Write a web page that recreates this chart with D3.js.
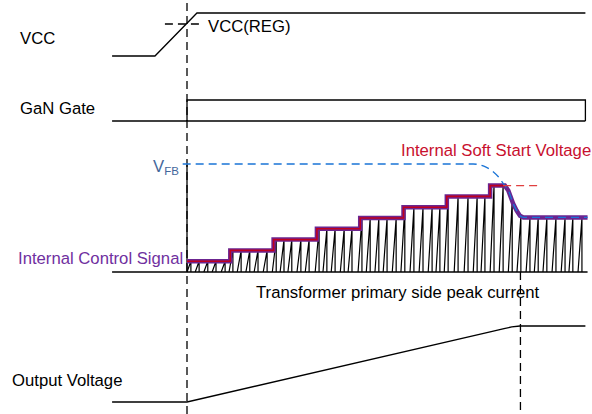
<!DOCTYPE html>
<html><head><meta charset="utf-8">
<script src="https://cdn.jsdelivr.net/npm/d3@7"></script>
<style>body{margin:0;background:#fff} svg{display:block} text{font-family:"Liberation Sans",Arial,sans-serif}</style>
</head><body><svg id="c" width="592" height="414"></svg>
<script>
// ---- data (time in soft-start step units, 0 = start-up) ----
const vccT = [-1.73, -0.74, 0.23, 9.2];
const vccV = [0, 0, 1, 1];
const vccRegLevel = 0.744;
const vccRegSpan = [-0.51, 0.3];
const gateHighSpan = [0, 9.2];
const gateLowSpan = [-1.73, 9.2];
const stepStart = [0, 1, 2, 3, 4, 5, 6, 7];
const stepLevel = [1, 2, 3, 4, 5, 6, 7, 8];
const dropT = [7.34, 7.42, 7.53, 7.61, 7.69, 7.77, 9.25];
const dropV = [8, 7.55, 6.35, 5.7, 5.2, 5.05, 5.05];
const vfbT = [-0.1, 6.61, 6.88, 7.07, 7.19, 7.30, 7.38, 7.42, 7.53, 7.61, 7.69, 7.77, 9.25];
const vfbV = [10, 10, 9.75, 9.29, 8.82, 8.21, 7.8, 7.55, 6.35, 5.7, 5.2, 5.05, 5.05];
const softDashT = [7.3, 8.13];
const softDashV = 8;
const pulseT = [0.09,0.28,0.48,0.67,0.88, 1.06,1.25,1.45,1.64,1.85, 2.06,2.24,2.42,2.63,2.82,
  3.05,3.23,3.42,3.63,3.81, 4.04,4.23,4.43,4.62,4.83, 5.03,5.24,5.45,5.66,5.84,
  6.03,6.26,6.49,6.70,6.88, 7.09,7.30,7.51,7.71,7.92,8.11,8.31,8.52,8.73,8.91,9.12];
const pulseRamp = 0.09;
const ctlSpan = [-1.73, 9.25];
const outT = [-1.73, 0, 7.0, 7.32, 7.5, 7.69, 9.2];
const outV = [0, 0, 0.924, 0.966, 0.988, 1, 1];
const markerT = [0, 7.70];
const labels = ["VCC", "GaN Gate", "Internal Control Signal", "Output Voltage"];

// ---- scales ----
const svg = d3.select("#c");
const x = d3.scaleLinear().domain([0, 9.2]).range([187, 585.4]);
const yVcc = d3.scaleLinear().domain([0, 1]).range([56, 13]);
const yGate = d3.scaleLinear().domain([0, 1]).range([121, 100]);
const yCtl = d3.scaleLinear().domain([0, 10]).range([272, 164]);
const yOut = d3.scaleLinear().domain([0, 1]).range([402, 326]);
const FS = "16.7px";
const black = "#000";

// marker lines
svg.append("line").attr("x1", x(markerT[0])).attr("x2", x(markerT[0]))
  .attr("y1", 3).attr("y2", 414).attr("stroke", black).attr("stroke-width", 1.3).attr("stroke-dasharray", "8,5");
svg.append("line").attr("x1", x(markerT[0])).attr("x2", x(markerT[0]))
  .attr("y1", yCtl(10) + 1).attr("y2", yCtl(0)).attr("stroke", black).attr("stroke-width", 1.3);
svg.append("line").attr("x1", x(markerT[1])).attr("x2", x(markerT[1]))
  .attr("y1", yCtl(0)).attr("y2", 414).attr("stroke", black).attr("stroke-width", 1.3).attr("stroke-dasharray", "8,5");

// VCC
const lineVcc = d3.line().x((d, i) => x(vccT[i])).y(d => yVcc(d));
svg.append("path").attr("d", lineVcc(vccV)).attr("fill", "none").attr("stroke", black).attr("stroke-width", 1.3);
svg.append("line").attr("x1", x(vccRegSpan[0])).attr("x2", x(vccRegSpan[1]))
  .attr("y1", yVcc(vccRegLevel)).attr("y2", yVcc(vccRegLevel))
  .attr("stroke", black).attr("stroke-width", 1.3).attr("stroke-dasharray", "8,5");
svg.append("text").attr("x", 208).attr("y", 31.5).attr("font-size", FS).text("VCC(REG)");

// Gate
svg.append("line").attr("x1", x(gateLowSpan[0])).attr("x2", x(gateLowSpan[1]))
  .attr("y1", yGate(0)).attr("y2", yGate(0)).attr("stroke", black).attr("stroke-width", 1.3);
svg.append("path").attr("d", d3.line()([[x(gateHighSpan[0]), yGate(0)], [x(gateHighSpan[0]), yGate(1)],
  [x(gateHighSpan[1]), yGate(1)], [x(gateHighSpan[1]), yGate(0)]]))
  .attr("fill", "none").attr("stroke", black).attr("stroke-width", 1.3);

// control signal level function
const dropScale = d3.scaleLinear().domain(dropT).range(dropV).clamp(true);
function level(t) {
  if (t < dropT[0]) { let i = d3.bisectRight(stepStart, t) - 1; return stepLevel[Math.max(0, i)]; }
  return dropScale(t);
}

// baseline + pulses
svg.append("line").attr("x1", x(ctlSpan[0])).attr("x2", x(ctlSpan[1]))
  .attr("y1", yCtl(0)).attr("y2", yCtl(0)).attr("stroke", black).attr("stroke-width", 1.3);
svg.append("g").selectAll("path").data(pulseT).join("path")
  .attr("d", t => d3.line()([[x(t - pulseRamp), yCtl(0)], [x(t), yCtl(level(t))], [x(t), yCtl(0)]]))
  .attr("fill", "none").attr("stroke", black).attr("stroke-width", 1.2);

// staircase
const stairPts = [];
stepStart.forEach((s, i) => {
  const end = i + 1 < stepStart.length ? stepStart[i + 1] : dropT[0];
  stairPts.push([s, stepLevel[i]], [end, stepLevel[i]]);
});
dropT.forEach((t, i) => stairPts.push([t, dropV[i]]));
const lineCtl = d3.line().x(d => x(d[0])).y(d => yCtl(d[1]));
svg.append("path").attr("d", lineCtl(stairPts)).attr("fill", "none")
  .attr("stroke", "#6b2590").attr("stroke-width", 4.5).attr("stroke-linejoin", "miter");
const redPts = stairPts.filter(d => d[0] <= dropT[0]);
svg.append("path").attr("d", lineCtl(redPts)).attr("fill", "none")
  .attr("stroke", "#c0001e").attr("stroke-width", 1.6);

// VFB
const lineVfb = d3.line().x((d, i) => x(vfbT[i])).y(d => yCtl(d)).curve(d3.curveMonotoneX);
svg.append("path").attr("d", lineVfb(vfbV)).attr("fill", "none")
  .attr("stroke", "#1a74d6").attr("stroke-width", 1.3).attr("stroke-dasharray", "8,5");
svg.append("line").attr("x1", x(softDashT[0])).attr("x2", x(softDashT[1]))
  .attr("y1", yCtl(softDashV)).attr("y2", yCtl(softDashV))
  .attr("stroke", "#e04040").attr("stroke-width", 1.3).attr("stroke-dasharray", "8,5");

// Output voltage
const lineOut = d3.line().x((d, i) => x(outT[i])).y(d => yOut(d));
svg.append("path").attr("d", lineOut(outV)).attr("fill", "none").attr("stroke", black).attr("stroke-width", 1.3);

// labels
svg.append("text").attr("x", 20).attr("y", 43.5).attr("font-size", FS).text(labels[0]);
svg.append("text").attr("x", 20).attr("y", 113.5).attr("font-size", FS).text(labels[1]);
svg.append("text").attr("x", 18).attr("y", 263.5).attr("font-size", FS).attr("fill", "#7030a0").text(labels[2]);
svg.append("text").attr("x", 12).attr("y", 386).attr("font-size", FS).text(labels[3]);
svg.append("text").attr("x", 401).attr("y", 156).attr("font-size", FS).attr("fill", "#c8102e").text("Internal Soft Start Voltage");
svg.append("text").attr("x", 256).attr("y", 297.5).attr("font-size", FS).text("Transformer primary side peak current");
const vfb = svg.append("text").attr("x", 153).attr("y", 171.7).attr("font-size", FS).attr("fill", "#44679b");
vfb.append("tspan").text("V");
vfb.append("tspan").attr("font-size", "11.5px").attr("dy", 3.3).text("FB");
</script></body></html>
